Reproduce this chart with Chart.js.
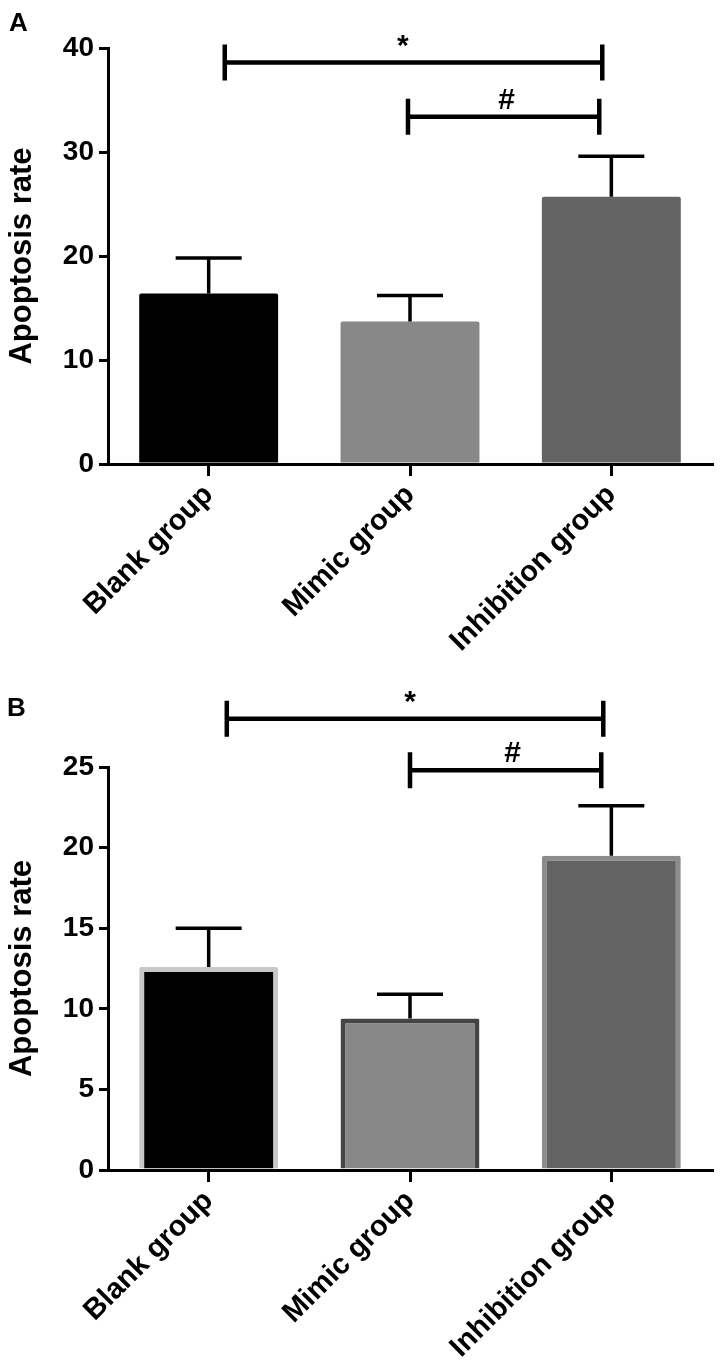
<!DOCTYPE html>
<html>
<head>
<meta charset="utf-8">
<script src="https://cdn.jsdelivr.net/npm/chart.js@4.4.1/dist/chart.umd.min.js"></script>
<style>
  body { margin: 0; background: #fff; }
  #wrap { position: relative; width: 724px; height: 1369px; }
  canvas { position: absolute; left: 0; }
  .panel { position: absolute; font-family: "Liberation Sans", Arial, sans-serif; font-weight: bold; color: #000; }
</style>
</head>
<body>
<div id="wrap">
  <canvas id="chartA" width="724" height="665" style="top:0"></canvas>
  <canvas id="chartB" width="724" height="729" style="top:640px"></canvas>
  <div class="panel" style="left:9px; top:7px; font-size:26px;">A</div>
  <div class="panel" style="left:7px; top:692px; font-size:26px;">B</div>
</div>
<script>
const categories = ['Blank group', 'Mimic group', 'Inhibition group'];

// panel A
const yTicksA = [0, 10, 20, 30, 40];
const meanA = [16.4, 13.7, 25.7];
const errA = [3.4, 2.5, 3.9];
// [from, to, level, mark, mark position] in category / value units
const bracketsA = [[0.08, 1.955, 38.6, '*', 0.965], [0.99, 1.94, 33.4, '#', 1.48]];

// panel B
const yTicksB = [0, 5, 10, 15, 20, 25];
const meanB = [12.6, 9.4, 19.5];
const errB = [2.4, 1.5, 3.1];
const bracketsB = [[0.09, 1.96, 28.0, '*', 1.0], [1.0, 1.95, 24.8, '#', 1.51]];

Chart.defaults.font.family = '"Liberation Sans", Arial, sans-serif';
Chart.defaults.font.weight = 'bold';
Chart.defaults.color = '#000';

// error bars + significance brackets
const annotate = {
  id: 'annotate',
  afterDatasetsDraw(chart, args, opts) {
    const { ctx, scales: { x, y } } = chart;
    const bars = chart.getDatasetMeta(0).data;
    ctx.save();
    ctx.strokeStyle = '#000';
    ctx.lineWidth = 3.5;
    opts.errs.forEach((e, i) => {
      const bx = bars[i].x;
      const top = y.getPixelForValue(opts.means[i] + e);
      ctx.beginPath();
      ctx.moveTo(bx, bars[i].y);
      ctx.lineTo(bx, top);
      ctx.moveTo(bx - 33, top);
      ctx.lineTo(bx + 33, top);
      ctx.stroke();
    });
    ctx.lineWidth = 4.5;
    ctx.fillStyle = '#000';
    ctx.font = 'bold 30px "Liberation Sans", Arial, sans-serif';
    ctx.textAlign = 'center';
    ctx.textBaseline = 'alphabetic';
    opts.brackets.forEach(([a, b, lvl, mark, at]) => {
      const x0 = x.getPixelForValue(a), x1 = x.getPixelForValue(b);
      const yy = y.getPixelForValue(lvl);
      ctx.beginPath();
      ctx.moveTo(x0, yy); ctx.lineTo(x1, yy);
      ctx.moveTo(x0, yy - 18); ctx.lineTo(x0, yy + 18);
      ctx.moveTo(x1, yy - 18); ctx.lineTo(x1, yy + 18);
      ctx.stroke();
      ctx.fillText(mark, x.getPixelForValue(at), yy - 8);
    });
    ctx.restore();
  }
};

function makeChart(id, means, errs, yTicks, brackets, style) {
  return new Chart(document.getElementById(id), {
    type: 'bar',
    data: {
      labels: categories,
      datasets: [{
        data: means,
        backgroundColor: style.fills,
        borderColor: style.borders,
        borderWidth: style.borderWidth,
        borderRadius: 2,
        borderSkipped: 'start',
        barPercentage: 0.69,
        categoryPercentage: 1
      }]
    },
    plugins: [annotate],
    options: {
      responsive: false,
      animation: false,
      layout: { padding: { top: style.top, right: 12, left: 0, bottom: 0 } },
      plugins: {
        legend: { display: false },
        tooltip: { enabled: false },
        annotate: { means, errs, brackets }
      },
      scales: {
        x: {
          grid: { offset: false, drawOnChartArea: false, color: '#000', lineWidth: 3, tickLength: 12 },
          border: { color: '#000', width: 3 },
          ticks: { autoSkip: false, minRotation: 45, maxRotation: 45, padding: 2, font: { size: 29, weight: 'bold' }, color: '#000' },
          afterFit: s => { s.height = style.xHeight; }
        },
        y: {
          min: yTicks[0],
          max: yTicks[yTicks.length - 1],
          afterBuildTicks: s => { s.ticks = yTicks.map(v => ({ value: v })); },
          grid: { drawOnChartArea: false, color: '#000', lineWidth: 3, tickLength: 9 },
          border: { color: '#000', width: 3 },
          ticks: { padding: 5, font: { size: 28, weight: 'bold' }, color: '#000' },
          title: { display: true, text: 'Apoptosis rate', font: { size: 31, weight: 'bold' }, color: '#000', padding: { top: 4, bottom: 0 } },
          afterFit: s => { s.width = 108; }
        }
      }
    }
  });
}

makeChart('chartA', meanA, errA, yTicksA, bracketsA, {
  fills: ['#000000', '#888888', '#646464'],
  borders: ['#000000', '#888888', '#646464'],
  borderWidth: 0,
  top: 48,
  xHeight: 201
});

makeChart('chartB', meanB, errB, yTicksB, bracketsB, {
  fills: ['#000000', '#878787', '#636363'],
  borders: ['#c8c8c8', '#454545', '#8c8c8c'],
  borderWidth: 5,
  top: 127,
  xHeight: 199
});
</script>
</body>
</html>
